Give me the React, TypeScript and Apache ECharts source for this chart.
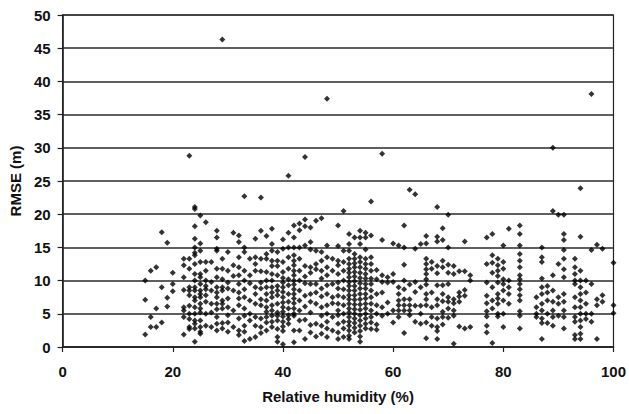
import React, { useEffect, useRef } from "react";
import * as echarts from "echarts";

// Relative humidity (%) -> RMSE (m) readings, grouped by humidity column
const rhTeens: [number, number[]][] = [
  [15, [10, 7.1, 1.9]],
  [16, [11.5, 4.5, 3]],
  [17, [12, 5.8, 3]],
  [18, [17.3, 9, 3.7]],
  [19, [15.7, 7.4, 6.1]],
  [20, [11.2, 9.5, 8.4]],
];

const rhTwenties: [number, number[]][] = [
  [22, [13.3, 12.3, 10.5, 8.6, 6, 5.5, 4.5, 1.9]],
  [23, [28.8, 13.3, 11.8, 9, 8.5, 7.8, 6.2, 5, 4.2, 3, 2.7]],
  [24, [21.1, 20.8, 18.2, 16.3, 15, 14.2, 13.8, 12.5, 11, 10, 9, 8.5, 7.5, 7, 6, 5, 4, 3.5, 2.8, 0.8]],
  [25, [19.8, 15.6, 14.5, 12.8, 11, 10.5, 9.5, 8.5, 8, 7.5, 6.5, 5.8, 5.2, 4, 3, 2.3, 2]],
  [26, [18.8, 12.8, 11.5, 10, 9.2, 8.7, 7.8, 6.8, 5, 3.2]],
  [27, [12.8, 9.8, 8.5, 6.5, 5.2, 3]],
  [28, [17.5, 16.5, 14.8, 14.5, 11.8, 10.5, 9, 8.2, 7.5, 6.5, 5.7, 4.5, 3.5, 2.5]],
  [29, [46.3, 13.3, 11.8, 10.2, 9, 8.5, 7, 6.5, 5.8, 3.6, 2.8]],
];

const rhThirties: [number, number[]][] = [
  [30, [14.3, 11.5, 9.7, 8.8, 7.3, 6, 4.8, 3.7, 2.3]],
  [31, [17.2, 12.3, 10.7, 8.5, 5.5, 3]],
  [32, [16.8, 15.8, 13.5, 12, 10.8, 9.5, 8.2, 7.3, 6.3, 4.3, 2.5, 1.8]],
  [33, [22.7, 15, 14.3, 11.5, 10, 8.7, 7.5, 5.8, 4.7, 3.2, 2.3, 0.9]],
  [34, [13.3, 10.8, 9.6, 7, 5, 4, 1.2]],
  [35, [16.3, 13.5, 12.5, 11.5, 9, 8, 6.5, 4.5, 3.2, 1.5]],
  [36, [22.5, 17.5, 13.3, 11.4, 9.7, 8.8, 7.2, 6.3, 4.3, 3, 2.1]],
  [37, [16.7, 14, 13.3, 11.3, 10, 9, 8, 7, 6, 5.3, 4.5, 3.7, 2.5]],
  [38, [17.8, 15.5, 14.5, 13, 12.2, 11, 10, 9, 8.2, 7.5, 6.3, 5.5, 4.7, 3.8, 3]],
  [39, [14.3, 13, 12.2, 10.8, 9.2, 8.5, 7.8, 6.5, 5.2, 4.7, 4, 2.7, 1.5, 0.8]],
];

const rhForties: [number, number[]][] = [
  [40, [16.2, 14.8, 12.8, 11.3, 10.4, 9.7, 9, 8.3, 7.5, 6.7, 6, 5.3, 4.6, 3.8, 3.1, 2.4, 0.4]],
  [41, [25.8, 17.2, 15, 13.5, 11.8, 10.2, 9.3, 8, 6.8, 5.8, 4.8, 4.2, 3.5]],
  [42, [18.3, 16.5, 15, 13.8, 13, 12.3, 11.5, 10.8, 10, 9.4, 8.7, 8, 7.3, 6.6, 5.8, 5, 4.7, 2.5, 0.7]],
  [43, [18.6, 17.6, 15, 13.3, 11.5, 10, 8.5, 7, 5.5, 4, 2.5]],
  [44, [28.6, 19.2, 18.2, 15.3, 12.2, 10.6, 9.6, 7.7, 6.1, 4.1, 1.2]],
  [45, [18, 15.8, 14.7, 12, 11.2, 9.5, 8, 6.8, 5.2, 3.3, 2.2]],
  [46, [19, 14.5, 12.5, 11.7, 9.5, 8.2, 6.5, 3.5, 1.6]],
  [47, [19.4, 14.3, 13, 11.5, 10.3, 8.8, 7.6, 6, 4.7, 3.2, 2]],
  [48, [37.4, 15.3, 13.5, 12, 10.8, 9.3, 8, 6.3, 5, 3.8, 2.8, 1.5]],
  [49, [13.3, 11.5, 9.5, 7.5, 6.6, 4.5, 2.5]],
];

const rhFifties: [number, number[]][] = [
  [50, [18.3, 15.2, 13, 12.3, 11, 9.7, 8.8, 7.7, 6.5, 5.5, 4.8, 3.5, 2.2, 1.2]],
  [51, [20.5, 14.5, 12.8, 11.5, 10, 8.7, 7.5, 6.3, 5, 3.8, 2.8, 1.5]],
  [52, [17, 15.5, 14.5, 13.3, 12.5, 11.8, 11.2, 10.5, 9.8, 9.2, 8.5, 7.8, 7.2, 6.5, 5.8, 5.2, 4.5, 3.8, 3.2, 2.5, 1.7, 1.2]],
  [53, [16.5, 14, 13.3, 12.6, 12, 11.3, 10.6, 9.9, 9.2, 8.5, 7.8, 7.1, 6.4, 5.7, 5, 4.3, 3.6, 2.9, 2.2]],
  [54, [17.5, 16.5, 15.5, 13.5, 12.8, 12, 11.2, 10.4, 9.6, 8.8, 8, 7.2, 6.4, 5.6, 4.8, 4, 3.2, 2.4, 1.6, 0.8]],
  [55, [17.2, 16.5, 14.7, 13.3, 12.5, 11.8, 11, 10.3, 9.5, 8.8, 8, 7.3, 6.5, 5.8, 5, 4.3, 3.5, 2.8]],
  [56, [21.9, 16.8, 13.5, 12.5, 11.5, 10.3, 9.5, 8.5, 7.5, 6.5, 5.5, 4.5, 3.7, 2.7]],
  [57, [11.6, 10.2, 8, 6.3, 5, 3.4, 2.6]],
  [58, [29.1, 16.1, 10.8, 9.8, 8.2, 6, 4.7]],
  [59, [10.5, 9.7, 6.7, 5]],
];

const rhSixties: [number, number[]][] = [
  [60, [15.6, 11, 9.8, 5.5, 3.7]],
  [61, [15.3, 9, 8, 7, 6.3, 5.5, 4.5]],
  [62, [18.3, 15, 12.4, 10, 8.7, 7.2, 6.3, 5.5, 2.1]],
  [63, [23.7, 9.4, 7.2, 6.3, 5.5, 4.8]],
  [64, [23, 14.8, 9.8, 8.3, 6.2, 3.8]],
  [65, [15.5, 9, 6.2, 5, 3.5]],
  [66, [16.7, 15.6, 13.3, 12.5, 11.7, 11, 10.2, 9.4, 8, 7.2, 6.3, 3.7, 1.3]],
  [67, [12.8, 11.8, 8.2, 6, 4.5, 3.2]],
  [68, [21.1, 16.6, 15.9, 12.2, 11.1, 9.3, 7.2, 6.3, 4.3, 3, 2.4, 1.2]],
  [69, [17.9, 16.1, 13, 12, 9.3, 8, 6.9, 5.3, 4.5, 3.4]],
];

const rhSeventiesPlus: [number, number[]][] = [
  [70, [19.9, 15, 12.4, 11.2, 9.5, 7.5, 6.8, 5.8, 4.4]],
  [71, [12.2, 11, 7.2, 6.6, 5.5, 4.7, 0.5]],
  [72, [11.4, 8.2, 7.6, 6.8, 3.1]],
  [73, [15.9, 11.4, 8.6, 7.7, 2.8]],
  [74, [10.8, 10, 3]],
  [77, [16.5, 12.5, 9.7, 7.7, 6.6, 5.4, 4.6, 3.2, 2.2]],
  [78, [17, 13.8, 12.7, 11.2, 9, 7, 5.8, 0.6]],
  [79, [13.3, 12.3, 11.5, 10.7, 9.7, 8, 7.3, 6.5, 5, 4.6]],
  [80, [15.3, 12.8, 11.8, 10.2, 9.5, 8.5, 7, 5, 3]],
  [81, [17.8, 10, 9, 8, 6.5]],
  [83, [18.3, 17, 15.3, 14, 13, 12, 10.8, 10.2, 9.5, 8.7, 7.8, 7, 5.4, 4.7, 2.8]],
  [86, [7.5, 6, 5, 4.5]],
  [87, [15, 13.5, 12.8, 10.3, 9, 8, 6.5, 5.5, 4.3, 3.6, 1.2]],
  [88, [9.2, 8.2, 7, 5, 3.6]],
  [89, [30, 20.5, 10.8, 8.5, 6.8, 5.5, 4.5, 3.2]],
  [90, [19.9, 12.5, 7.5, 6.5, 4.7]],
  [91, [19.9, 17, 16.1, 14.6, 13.3, 11.7, 10.5, 8, 6.8, 5.5, 4.5, 2.8]],
  [93, [13.3, 12, 11, 10, 9.5, 7.5, 6, 4.5, 3.8, 1.8, 1.2]],
  [94, [23.9, 16.6, 11.5, 10, 9, 8, 7, 6, 5, 4, 3, 2, 1.2]],
  [95, [10, 8.2, 6.5, 5, 4.2]],
  [96, [38.1, 14.6, 9.5, 5, 3.8]],
  [97, [15.4, 7.2, 6.3, 1.2]],
  [98, [14.8, 7.8, 6.8]],
  [100, [12.7, 6.3, 5.1]],
];

const xTicks = [0, 20, 40, 60, 80, 100];
const yTicks = [0, 5, 10, 15, 20, 25, 30, 35, 40, 45, 50];

export default function App() {
  const ref = useRef<HTMLDivElement>(null);
  useEffect(() => {
    if (!ref.current) return;
    const chart = echarts.init(ref.current, null, { renderer: "svg" });
    const groups = [rhTeens, rhTwenties, rhThirties, rhForties, rhFifties, rhSixties, rhSeventiesPlus];
    const data: number[][] = [];
    groups.forEach((g) => g.forEach(([rh, vals]) => vals.forEach((v) => data.push([rh, v]))));
    const font = "'Liberation Sans', Arial, sans-serif";
    chart.setOption({
      animation: false,
      backgroundColor: "#ffffff",
      grid: {
        left: 62,
        right: 14,
        top: 15,
        bottom: 67,
        show: true,
        borderColor: "#222",
        borderWidth: 1.2,
      },
      xAxis: {
        type: "value",
        min: xTicks[0],
        max: xTicks[xTicks.length - 1],
        interval: 20,
        name: "Relative humidity (%)",
        nameLocation: "middle",
        nameGap: 42,
        nameTextStyle: { fontFamily: font, fontWeight: "bold", fontSize: 15, color: "#111" },
        axisLine: { lineStyle: { color: "#222", width: 1.6 } },
        axisTick: { show: true, inside: false, length: 5, lineStyle: { color: "#222", width: 1.2 } },
        axisLabel: { margin: 17, fontFamily: font, fontWeight: "bold", fontSize: 15, color: "#111" },
        splitLine: { show: false },
      },
      yAxis: {
        type: "value",
        min: yTicks[0],
        max: yTicks[yTicks.length - 1],
        interval: 5,
        name: "RMSE (m)",
        nameLocation: "middle",
        nameGap: 38,
        nameTextStyle: { fontFamily: font, fontWeight: "bold", fontSize: 15, color: "#111" },
        axisLine: { show: true, lineStyle: { color: "#222", width: 1.6 } },
        axisTick: { show: true, length: 5, lineStyle: { color: "#222", width: 1.2 } },
        axisLabel: { margin: 12, fontFamily: font, fontWeight: "bold", fontSize: 15, color: "#111" },
        splitLine: { show: true, lineStyle: { color: "#2a2a2a", width: 1.5 } },
      },
      series: [
        {
          type: "scatter",
          symbol: "diamond",
          symbolSize: 6,
          itemStyle: { color: "#000" },
          data,
        },
      ],
    });
    return () => chart.dispose();
  }, []);
  return <div ref={ref} style={{ position: "fixed", left: 0, top: 0, width: 629, height: 414 }} />;
}
